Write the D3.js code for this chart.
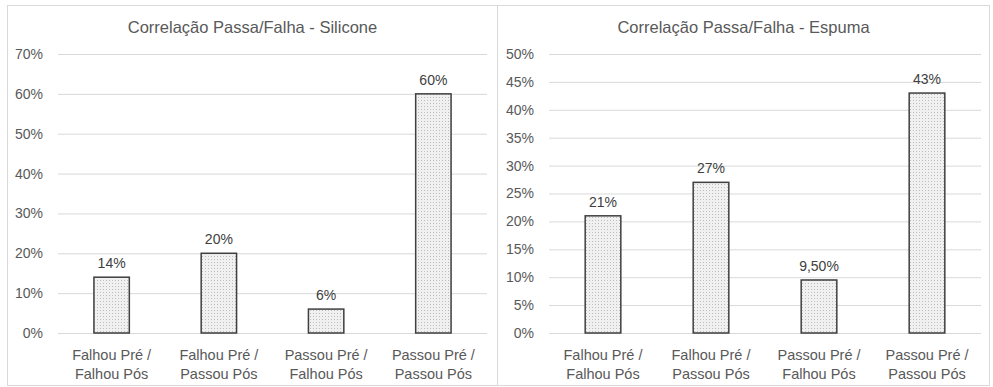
<!DOCTYPE html>
<html><head><meta charset="utf-8">
<script src="https://cdn.jsdelivr.net/npm/d3@7"></script>
<style>body{margin:0;background:#fff}svg{display:block}</style>
</head><body>
<svg id="c" width="993" height="387"></svg>
<script>
const categories = [["Falhou Pré /","Falhou Pós"],["Falhou Pré /","Passou Pós"],["Passou Pré /","Falhou Pós"],["Passou Pré /","Passou Pós"]];
const siliconeValues = [14, 20, 6, 60];
const siliconeLabels = ["14%","20%","6%","60%"];
const siliconeTicks = [0,10,20,30,40,50,60,70];
const espumaValues = [21, 27, 9.5, 43];
const espumaLabels = ["21%","27%","9,50%","43%"];
const espumaTicks = [0,5,10,15,20,25,30,35,40,45,50];

const svg = d3.select("#c");
const font = "'Liberation Sans', Arial, sans-serif";
const defs = svg.append("defs");
const pat = defs.append("pattern").attr("id","dots").attr("width",3).attr("height",3).attr("patternUnits","userSpaceOnUse");
pat.append("rect").attr("width",3).attr("height",3).attr("fill","#f0f0f0");
pat.append("rect").attr("x",1).attr("y",1).attr("width",1).attr("height",1).attr("fill","#bdbdbd");

function panel(p){
  const g = svg.append("g");
  g.append("rect").attr("x",p.bx).attr("y",5.5).attr("width",p.bw).attr("height",380).attr("fill","none").attr("stroke","#d9d9d9").attr("stroke-width",1);
  g.append("text").attr("x",p.bx+p.bw/2).attr("y",33).attr("text-anchor","middle")
    .attr("font-family",font).attr("font-size",16.5).attr("fill","#595959").text(p.title);
  const x = d3.scaleBand().domain(d3.range(categories.length)).range([p.x0,p.x1]).paddingInner(0.67).paddingOuter(0.335);
  const y = d3.scaleLinear().domain([0,p.max]).range([333,54]);
  const yAxis = d3.axisLeft(y).tickValues(p.ticks).tickSize(-(p.x1-p.x0)).tickFormat(d=>d+"%");
  const ya = g.append("g").attr("transform",`translate(${p.x0},0)`).call(yAxis);
  ya.select(".domain").remove();
  ya.selectAll(".tick line").attr("stroke","#d9d9d9").attr("stroke-width",1);
  ya.selectAll(".tick text").attr("x",-15).attr("font-family",font).attr("font-size",14).attr("fill","#595959");
  const xAxis = d3.axisBottom(x).tickSize(0).tickFormat("");
  const xa = g.append("g").attr("transform","translate(0,333)").call(xAxis);
  xa.select(".domain").remove();
  xa.selectAll(".tick").each(function(d){
    const t = d3.select(this).append("text").attr("text-anchor","middle").attr("font-family",font).attr("font-size",14.5).attr("fill","#595959");
    categories[d].forEach((s,i)=>t.append("tspan").attr("x",0).attr("y",27+i*19).text(s));
  });
  g.selectAll("rect.bar").data(p.values).join("rect").attr("class","bar")
    .attr("x",(d,i)=>x(i)).attr("width",x.bandwidth()).attr("y",d=>y(d)).attr("height",d=>y(0)-y(d))
    .attr("fill","url(#dots)").attr("stroke","#3f3f3f").attr("stroke-width",1.5);
  g.selectAll("text.lbl").data(p.values).join("text").attr("class","lbl")
    .attr("x",(d,i)=>x(i)+x.bandwidth()/2).attr("y",d=>y(d)-9).attr("text-anchor","middle")
    .attr("font-family",font).attr("font-size",14).attr("fill","#404040").text((d,i)=>p.labels[i]);
}
panel({bx:7.5,bw:490,x0:58,x1:487,max:70,ticks:siliconeTicks,values:siliconeValues,labels:siliconeLabels,title:"Correlação Passa/Falha - Silicone"});
panel({bx:497.5,bw:492,x0:549,x1:981,max:50,ticks:espumaTicks,values:espumaValues,labels:espumaLabels,title:"Correlação Passa/Falha - Espuma"});
</script>
</body></html>
